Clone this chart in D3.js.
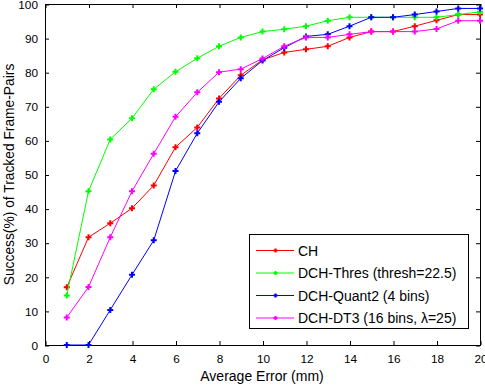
<!DOCTYPE html>
<html>
<head>
<meta charset="utf-8">
<script src="https://cdn.jsdelivr.net/npm/d3@7"></script>
<style>
  body { margin: 0; background: #fff; }
  text { font-family: "Liberation Sans", Arial, sans-serif; }
</style>
</head>
<body>
<svg id="chart" width="485" height="386"></svg>
<script>
const errors = d3.range(1, 21);
const seriesNames = ["CH", "DCH-Thres (thresh=22.5)", "DCH-Quant2 (4 bins)", "DCH-DT3 (16 bins, \u03bb=25)"];
const seriesColors = ["#ff0000", "#00ff00", "#0000ff", "#ff00ff"];

const ch = [16.9, 31.6, 35.7, 40.1, 46.8, 58.0, 63.8, 72.3, 79.1, 83.6, 85.8, 86.7, 87.6, 90.2, 91.9, 91.9, 93.5, 95.2, 96.9, 96.9];
const dchThres = [14.5, 45.1, 60.3, 66.5, 75.0, 80.1, 84.1, 87.6, 90.2, 91.9, 92.6, 93.5, 95.1, 96.1, 96.1, 96.1, 96.1, 96.1, 96.9, 97.7];
const dchQuant2 = [0, 0, 10.3, 20.6, 30.7, 51.0, 62.1, 71.3, 78.2, 83.4, 87.2, 90.5, 91.1, 93.5, 96.1, 96.1, 96.9, 97.8, 98.7, 98.7];
const dchDT3 = [8.1, 17.0, 31.6, 45.1, 56.1, 66.9, 74.1, 80.0, 80.9, 84.0, 87.6, 90.2, 90.2, 91.1, 91.9, 91.9, 91.9, 92.7, 95.1, 95.1];

const xTicks = d3.range(0, 21, 2);
const yTicks = d3.range(0, 101, 10);

const svg = d3.select("#chart");
const mLeft = 45, mRight = 480, mTop = 4, mBottom = 345;

const x = d3.scaleLinear().domain([0, 20]).range([mLeft, mRight]);
const y = d3.scaleLinear().domain([0, 100]).range([mBottom, mTop]);

// box and inward ticks (matlab style)
svg.append("rect")
  .attr("x", mLeft + 0.5).attr("y", mTop + 0.5)
  .attr("width", mRight - mLeft).attr("height", mBottom - mTop)
  .attr("fill", "none").attr("stroke", "#000");

const xAxis = svg.append("g").attr("transform", `translate(0.5,${mBottom})`)
  .call(d3.axisBottom(x).tickValues(xTicks).tickSize(-4).tickPadding(10));
const xAxisTop = svg.append("g").attr("transform", `translate(0.5,${mTop})`)
  .call(d3.axisTop(x).tickValues(xTicks).tickSize(-4).tickFormat(""));
const yAxis = svg.append("g").attr("transform", `translate(${mLeft},0.5)`)
  .call(d3.axisLeft(y).tickValues(yTicks).tickSize(-4).tickPadding(7));
const yAxisRight = svg.append("g").attr("transform", `translate(${mRight},0.5)`)
  .call(d3.axisRight(y).tickValues(yTicks).tickSize(-4).tickFormat(""));

[xAxis, xAxisTop, yAxis, yAxisRight].forEach(g => {
  g.select(".domain").remove();
  g.selectAll("line").attr("stroke", "#000");
  g.selectAll("text").attr("fill", "#000").style("font-size", "11.8px")
    .style("font-family", "'Liberation Sans', Arial, sans-serif");
});

const data = [ch, dchThres, dchQuant2, dchDT3];
const line = d3.line().x((d, i) => x(errors[i])).y(d => y(d));

const plot = svg.append("g");
data.forEach((vals, k) => {
  plot.append("path")
    .datum(vals)
    .attr("d", line)
    .attr("fill", "none")
    .attr("stroke", seriesColors[k])
    .attr("stroke-width", 1);
  plot.selectAll(null)
    .data(vals)
    .join("path")
    .attr("d", "M-3,0H3M0,-3V3")
    .attr("transform", (d, i) => `translate(${x(errors[i])},${y(d)})`)
    .attr("stroke", seriesColors[k])
    .attr("stroke-width", 2);
});

// legend
const lg = svg.append("g");
lg.append("rect")
  .attr("x", 249.5).attr("y", 234.5)
  .attr("width", 219).attr("height", 94)
  .attr("fill", "#fff").attr("stroke", "#000");
seriesNames.forEach((name, k) => {
  const ly = 250.5 + k * 22.5;
  lg.append("line")
    .attr("x1", 256).attr("x2", 294).attr("y1", ly).attr("y2", ly)
    .attr("stroke", seriesColors[k]);
  lg.append("path")
    .attr("d", "M-2,0H2M0,-2V2")
    .attr("transform", `translate(275.5,${ly})`)
    .attr("stroke", seriesColors[k]).attr("stroke-width", 2);
  lg.append("text")
    .attr("x", 298).attr("y", ly).attr("dy", "0.36em")
    .style("font-size", "14px")
    .text(name);
});

svg.append("text")
  .attr("x", 262).attr("y", 381)
  .attr("text-anchor", "middle")
  .style("font-size", "14px")
  .text("Average Error (mm)");

svg.append("text")
  .attr("transform", `translate(9,${(mTop + mBottom) / 2}) rotate(-90)`)
  .attr("text-anchor", "middle")
  .attr("dy", "0.36em")
  .style("font-size", "13.8px")
  .text("Success(%) of Tracked Frame-Pairs");
</script>
</body>
</html>
